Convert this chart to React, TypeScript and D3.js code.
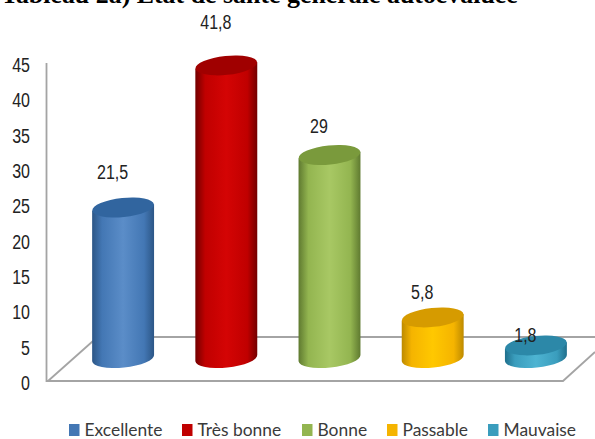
import React from "react";
import * as d3 from "d3";

const categories = ["Excellente", "Très bonne", "Bonne", "Passable", "Mauvaise"];
const values = [21.5, 41.8, 29, 5.8, 1.8];
const valueLabels = ["21,5", "41,8", "29", "5,8", "1,8"];
const tickValues = [0, 5, 10, 15, 20, 25, 30, 35, 40, 45];
const palette = [
  { light: "#5b8dc8", mid: "#4377b4", dark: "#2c5686", top: "#31659f" },
  { light: "#d40404", mid: "#c00000", dark: "#730000", top: "#a00000" },
  { light: "#a8c864", mid: "#93b550", dark: "#5f7a30", top: "#7a9a3c" },
  { light: "#ffc800", mid: "#f5b400", dark: "#bd8a00", top: "#d69b00" },
  { light: "#4eb4d2", mid: "#3a9dbd", dark: "#1f6f8c", top: "#2c88a8" },
];
const title = "Tableau 2a) Etat de santé générale autoévaluée";

// Layout: legend swatch positions and how far each value label sits above its cylinder.
const legendSwatchX = [69, 182, 302, 387, 488];
const labelRise = [28.5, 36, 22, 18, 3.5];

const W = 595;
const H = 439;
const NUMBER_SQUEEZE = 0.8;

function NarrowNumber({ x, y, anchor, children }: { x: number; y: number; anchor: string; children: React.ReactNode }) {
  return (
    <text
      transform={`translate(${x} ${y}) scale(${NUMBER_SQUEEZE} 1)`}
      textAnchor={anchor}
      fontFamily="'Liberation Sans', sans-serif"
      fontSize={20}
      fill="#222"
    >
      {children}
    </text>
  );
}

export default function App() {
  // Axis labels and cylinder heights use separate ranges: the cylinders stand
  // further back on the perspective floor than the axis baseline.
  const axisY = d3.scaleLinear().domain([0, 45]).range([381, 63]);
  const barY = d3.scaleLinear().domain([0, 45]).range([358, 43]);
  const barX = d3.scaleBand<string>().domain(categories).range([71.5, 587.5]).paddingInner(0.4).paddingOuter(0.2);
  const rx = barX.bandwidth() / 2;
  const ry = 9.5;
  const tilt = -6;

  return (
    <svg
      width={W}
      height={H}
      viewBox={`0 0 ${W} ${H}`}
      style={{ position: "absolute", left: 0, top: 0, background: "#fff" }}
    >
      <defs>
        {palette.map((c, i) => (
          <linearGradient key={i} id={`cyl-${i}`} x1="0" x2="1" y1="0" y2="0">
            <stop offset="0" stopColor={c.dark} />
            <stop offset="0.16" stopColor={c.mid} />
            <stop offset="0.5" stopColor={c.light} />
            <stop offset="0.84" stopColor={c.mid} />
            <stop offset="1" stopColor={c.dark} />
          </linearGradient>
        ))}
      </defs>

      <text x={1} y={3} fontFamily="'Liberation Serif', serif" fontWeight="bold" fontSize={25.9} fill="#000">
        {title}
      </text>

      {/* Floor of the 3D plot and the value axis */}
      <g fill="none" stroke="#a4a4a4" strokeWidth={1.8}>
        <path d={`M46.5 ${axisY(45)}V${axisY(0)}H563L595 352`} />
        <path d={`M48 ${axisY(0)}L93 341`} />
        <path d={`M93 337H595`} />
      </g>

      {tickValues.map((t) => (
        <NarrowNumber key={t} x={30} y={axisY(t) + 9} anchor="end">
          {t}
        </NarrowNumber>
      ))}

      {categories.map((cat, i) => {
        const x0 = barX(cat)!;
        const cx = x0 + rx;
        const yTop = barY(values[i]);
        const yBase = barY(0);
        const dy = Math.tan((tilt * Math.PI) / 180) * rx;
        const body = `M${x0} ${yTop - dy}L${x0} ${yBase - dy}A${rx} ${ry} ${tilt} 0 0 ${x0 + 2 * rx} ${yBase + dy}L${x0 + 2 * rx} ${yTop + dy}Z`;
        return (
          <g key={cat}>
            <path d={body} fill={`url(#cyl-${i})`} />
            <ellipse
              cx={cx}
              cy={yTop}
              rx={rx}
              ry={ry}
              fill={palette[i].top}
              transform={`rotate(${tilt} ${cx} ${yTop})`}
            />
            <NarrowNumber x={cx - 10.5} y={yTop - labelRise[i]} anchor="middle">
              {valueLabels[i]}
            </NarrowNumber>
          </g>
        );
      })}

      {categories.map((cat, i) => (
        <g key={cat}>
          <rect x={legendSwatchX[i]} y={424} width={10.5} height={12} fill={palette[i].mid} />
          <text
            x={legendSwatchX[i] + 15.5}
            y={436}
            fontFamily="Lato, sans-serif"
            fontSize={17.4}
            fill="#3a3a3a"
          >
            {cat}
          </text>
        </g>
      ))}
    </svg>
  );
}
